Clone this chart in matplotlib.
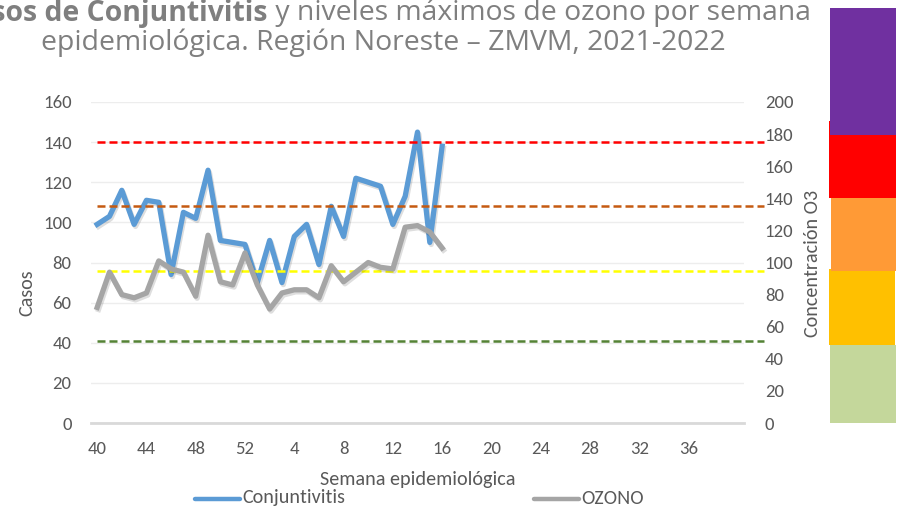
import matplotlib
matplotlib.use("Agg")
import matplotlib.pyplot as plt
import matplotlib.patheffects as pe
from matplotlib.patches import Rectangle

# week labels: 2021 weeks 40-52 then 2022 weeks 1-40
semanas = [str(w) for w in range(40, 53)] + [str(w) for w in range(1, 41)]
# observed values, weeks 40/2021 .. 16/2022
casos = [99, 103, 116, 99, 111, 110, 74, 105, 102, 126, 91, 90, 89,
         70, 91, 70, 93, 99, 79, 108, 93, 122, 120, 118, 99, 113, 145, 90, 138]
ozono = [72, 94, 80, 78, 81, 101, 96, 94, 79, 117, 88, 86, 106,
         86, 71, 81, 83, 83, 78, 98, 88, 94, 100, 97, 96, 122, 123, 119, 109]
# ozone category limits (ppb) and colours of the reference lines
limites = [51, 95, 135, 175]
colores_lim = ["#548235", "#FFFF00", "#C55A11", "#FF0000"]
# colours of the category scale pasted at the right, bottom to top
colores_escala = ["#C4D79B", "#FFC000", "#FF9A36", "#FF0000", "#7030A0"]

W, H = 900, 507
TXT = "#595959"
plt.rcParams["font.family"] = ["Carlito", "Lato", "DejaVu Sans"]

fig = plt.figure(figsize=(W / 100, H / 100), dpi=100)
L, R, B, T = 91, 744, 423, 102
ax = fig.add_axes([L / W, 1 - B / H, (R - L) / W, (B - T) / H])
ax2 = ax.twinx()

shadow = [pe.SimpleLineShadow(offset=(1, -1.5), shadow_color="k", alpha=0.13),
          pe.Normal()]
ax.plot(range(len(casos)), casos, color="#5B9BD5", lw=3.8,
        path_effects=shadow, zorder=3)
ax2.plot(range(len(ozono)), ozono, color="#A5A5A5", lw=3.8,
         path_effects=shadow, zorder=3)

for v, c in zip(limites, colores_lim):
    ax2.plot([0, len(semanas) + 1.1], [v, v], color=c, lw=1.8,
             dashes=(3.2, 1.6), clip_on=False, zorder=2)

ax.set_xlim(-0.5, len(semanas) - 0.5)
ax.set_ylim(0, 160)
ax2.set_ylim(0, 200)
ax.set_yticks(range(0, 161, 20))
ax2.set_yticks(range(0, 201, 20))
ax.set_xticks(range(0, 49, 4))
ax.set_xticklabels(semanas[0:49:4])
ax.grid(axis="y", color="#EDEDED", lw=1)
ax.set_axisbelow(True)

for a in (ax, ax2):
    for s in a.spines.values():
        s.set_visible(False)
    a.tick_params(length=0, labelsize=13.5, labelcolor=TXT)
ax.spines["bottom"].set_visible(True)
ax.spines["bottom"].set_color("#D9D9D9")
ax.spines["bottom"].set_linewidth(2)
ax.tick_params(axis="x", pad=13)
ax.tick_params(axis="y", pad=14)
ax2.tick_params(axis="y", pad=15)

fig.text(27 / W, 1 - 293 / H, "Casos", rotation=90, ha="center", va="center",
         fontsize=14.5, color=TXT)
fig.text(812 / W, 1 - 263 / H, "Concentración O3", rotation=90, ha="center",
         va="center", fontsize=14.5, color=TXT)
fig.text(418 / W, 1 - 479 / H, "Semana epidemiológica", ha="center",
         va="center", fontsize=14.5, color=TXT)

# legend drawn by hand below the axis title
for x0, lab, col in [(195, "Conjuntivitis", "#5B9BD5"), (534, "OZONO", "#A5A5A5")]:
    fig.add_artist(plt.Line2D([x0 / W, (x0 + 45) / W], [1 - 499 / H] * 2,
                              color=col, lw=3.2, solid_capstyle="round"))
    fig.text((x0 + 47) / W, 1 - 498 / H, lab, va="center", fontsize=14.5, color=TXT)

# colour scale blocks (pixel boxes left, top, right, bottom)
cajas = [(830, 345, 896, 423), (829, 269, 895, 345), (831, 198, 896, 271),
         (829, 121, 896, 198), (830, 8, 896, 135)]
for (x0, y0, x1, y1), c in zip(cajas, colores_escala):
    fig.add_artist(Rectangle((x0 / W, 1 - y1 / H), (x1 - x0) / W, (y1 - y0) / H,
                             transform=fig.transFigure, facecolor=c, lw=0))

# title, first line is partly cut at the left edge as in the source
r = fig.canvas.get_renderer()
tfont = ["Open Sans", "DejaVu Sans"]
linea2 = "epidemiológica. Región Noreste – ZMVM, 2021-2022"
probe = fig.text(0, 0, linea2, fontsize=16, family=tfont)
size = 16 * 687 / probe.get_window_extent(r).width
probe.remove()
cx = 383.5
t1 = fig.text(0, 1 - 13 / H, "Casos de Conjuntivitis", fontsize=size,
              family=tfont, weight="bold", color="#7F7F7F", va="center")
t2 = fig.text(0, 1 - 13 / H, " y niveles máximos de ozono por semana",
              fontsize=size, family=tfont, color="#7F7F7F", va="center")
w1 = t1.get_window_extent(r).width
w2 = t2.get_window_extent(r).width
start = cx - (w1 + w2) / 2
t1.set_x(start / W)
t2.set_x((start + w1) / W)
fig.text(cx / W, 1 - 43 / H, linea2, fontsize=size, family=tfont,
         color="#7F7F7F", ha="center", va="center")

fig.savefig("out.png", dpi=100)
